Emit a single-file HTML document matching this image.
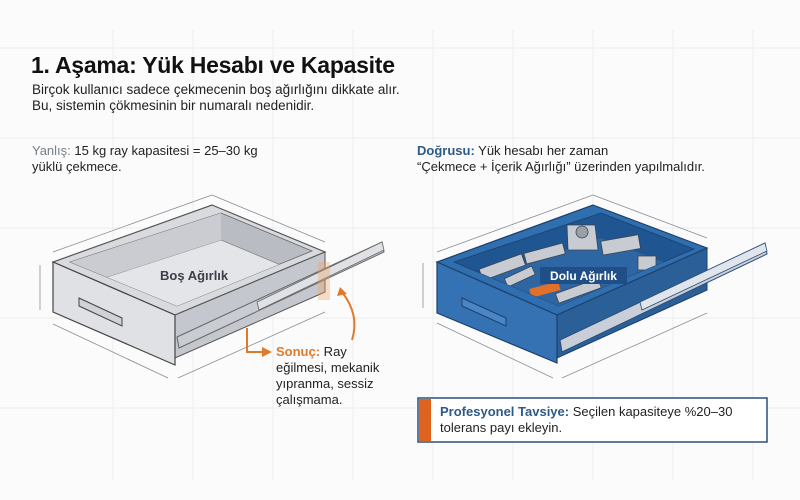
<!DOCTYPE html>
<html><head><meta charset="utf-8"><style>
body{margin:0;background:#fbfbfb;}
svg{display:block;font-family:"Liberation Sans",sans-serif;}
</style></head><body>
<svg width="800" height="500" viewBox="0 0 800 500" xmlns="http://www.w3.org/2000/svg">
<defs>
<clipPath id="cl"><polygon points="221,213 312,251 177,306 70,262"/></clipPath>
<clipPath id="cr"><polygon points="601,213 694,249 559,306 454,262"/></clipPath>
</defs>
<rect width="800" height="500" fill="#fbfbfb"/>
<g stroke="#ececef" stroke-width="1">
<line x1="0" y1="138" x2="800" y2="138"/><line x1="0" y1="48" x2="800" y2="48"/>
<line x1="0" y1="228" x2="800" y2="228"/><line x1="0" y1="318" x2="800" y2="318"/><line x1="0" y1="408" x2="800" y2="408"/>
<line x1="113" y1="30" x2="113" y2="480"/><line x1="193" y1="30" x2="193" y2="480"/><line x1="273" y1="30" x2="273" y2="480"/>
<line x1="353" y1="30" x2="353" y2="480"/><line x1="433" y1="30" x2="433" y2="480"/><line x1="513" y1="30" x2="513" y2="480"/>
<line x1="593" y1="30" x2="593" y2="480"/><line x1="673" y1="30" x2="673" y2="480"/><line x1="753" y1="30" x2="753" y2="480"/>
</g>
<text x="31" y="73" font-size="23" font-weight="bold" fill="#111" textLength="364">1. Aşama: Yük Hesabı ve Kapasite</text>
<text x="32" y="94" font-size="13.5" fill="#222">Birçok kullanıcı sadece çekmecenin boş ağırlığını dikkate alır.</text>
<text x="32" y="110" font-size="13.5" fill="#222">Bu, sistemin çökmesinin bir numaralı nedenidir.</text>
<text x="32" y="155" font-size="13" fill="#222"><tspan fill="#778088">Yanlış:</tspan> 15 kg ray kapasitesi = 25–30 kg</text>
<text x="32" y="171" font-size="13" fill="#222">yüklü çekmece.</text>
<text x="417" y="155" font-size="13" fill="#222"><tspan fill="#2d5a86" font-weight="bold">Doğrusu:</tspan> Yük hesabı her zaman</text>
<text x="417" y="171" font-size="13" fill="#222">“Çekmece + İçerik Ağırlığı” üzerinden yapılmalıdır.</text>

<!-- left drawer -->
<g stroke="#8a8e96" stroke-width="0.8" fill="none">
<line x1="53" y1="252" x2="212" y2="195"/><line x1="212" y1="195" x2="325" y2="242"/>
<line x1="53" y1="324" x2="168" y2="378"/><line x1="178" y1="378" x2="325" y2="312"/>
<line x1="40" y1="265" x2="40" y2="310"/>
</g>
<polygon points="212,205 325,252 175,315 53,262" fill="#d8dade" stroke="#555" stroke-width="1.2"/>
<polygon points="221,213 312,251 177,306 70,262" fill="#b9bcc3" stroke="#666" stroke-width="0.8"/>
<g clip-path="url(#cl)">
<polygon points="221,240 312,278 177,333 70,289" fill="#e4e5e8" stroke="#888" stroke-width="0.8"/>
<polygon points="221,213 221,240 70,289 70,262" fill="#caccd1"/>
</g>
<polygon points="175,315 325,252 325,292 175,358" fill="#c4c7cd" stroke="#555" stroke-width="1"/>
<polygon points="177,337 382,242 384,252 179,348" fill="#c9ccd2" stroke="#666" stroke-width="1"/>
<polygon points="257,302 382,242 384,250 259,310" fill="#dfe1e5" stroke="#666" stroke-width="0.8"/>
<polygon points="53,262 175,315 175,365 53,312" fill="#dfe1e4" stroke="#444" stroke-width="1.2"/>
<polygon points="79,298 122,318 122,326 79,306" fill="#cfd2d6" stroke="#444" stroke-width="1"/>
<rect x="318" y="262" width="12" height="38" fill="#f0a060" opacity="0.35"/>
<text x="160" y="280" font-size="13" font-weight="bold" fill="#3a3f48">Boş Ağırlık</text>
<path d="M247 328 V352 H262" stroke="#e07a2a" stroke-width="2" fill="none"/>
<polygon points="262,347 272,352 262,357" fill="#e07a2a"/>
<path d="M352 340 Q360 315 342 292" stroke="#e07a2a" stroke-width="2" fill="none"/>
<polygon points="337,296 340,287 347,294" fill="#e07a2a"/>
<text x="276" y="356" font-size="13" fill="#222"><tspan fill="#e07a2a" font-weight="bold">Sonuç:</tspan> Ray</text>
<text x="276" y="372" font-size="13" fill="#222">eğilmesi, mekanik</text>
<text x="276" y="388" font-size="13" fill="#222">yıpranma, sessiz</text>
<text x="276" y="404" font-size="13" fill="#222">çalışmama.</text>

<!-- right drawer -->
<g stroke="#8a8e96" stroke-width="0.8" fill="none">
<line x1="437" y1="252" x2="593" y2="195"/><line x1="593" y1="195" x2="707" y2="238"/>
<line x1="437" y1="323" x2="553" y2="378"/><line x1="562" y1="378" x2="707" y2="313"/>
<line x1="423" y1="263" x2="423" y2="308"/>
</g>
<polygon points="593,205 707,248 557,315 437,262" fill="#2f6fb0" stroke="#1e3f6a" stroke-width="1.2"/>
<polygon points="601,213 694,249 559,306 454,262" fill="#1f5590" stroke="#1e3f6a" stroke-width="0.8"/>
<g clip-path="url(#cr)">
<polygon points="601,238 694,274 559,331 454,287" fill="#2e66a4"/>
<g fill="#c8ccd2" stroke="#3a4450" stroke-width="0.8">
<polygon points="567,225 595,225 598,250 568,250"/>
<circle cx="582" cy="232" r="6" fill="#9aa0a8"/>
<rect x="480" y="262" width="45" height="12" transform="rotate(-20 500 268)"/>
<rect x="525" y="248" width="40" height="11" transform="rotate(-15 545 255)"/>
<rect x="602" y="238" width="38" height="14" transform="rotate(-10 620 247)"/>
<rect x="638" y="256" width="18" height="14"/>
<rect x="555" y="285" width="45" height="10" transform="rotate(-20 580 288)"/>
<rect x="505" y="272" width="30" height="9" transform="rotate(-25 520 277)"/>
</g>
<rect x="530" y="285" width="30" height="9" fill="#e0702a" transform="rotate(-15 545 290)"/>
</g>
<polygon points="557,315 707,248 707,290 557,358" fill="#2a5f98" stroke="#1e3f6a" stroke-width="1"/>
<polygon points="560,340 765,243 767,254 562,352" fill="#c9cfd8" stroke="#2c4f7a" stroke-width="1"/>
<polygon points="640,302 765,243 767,251 642,310" fill="#e0e5ec" stroke="#2c4f7a" stroke-width="0.8"/>
<polygon points="437,262 557,315 557,363 437,313" fill="#3472b4" stroke="#1e3f6a" stroke-width="1.2"/>
<polygon points="462,298 506,318 506,326 462,306" fill="#4a86c6" stroke="#1e3f6a" stroke-width="1"/>
<rect x="540" y="267" width="87" height="17" fill="#1f4f86"/>
<text x="583.5" y="280" font-size="12" font-weight="bold" fill="#fff" text-anchor="middle">Dolu Ağırlık</text>

<rect x="418" y="398" width="349" height="44" fill="#fff" stroke="#2c4f7a" stroke-width="1.5"/>
<rect x="419" y="399" width="12" height="42" fill="#e0621f"/>
<text x="440" y="416" font-size="13" fill="#222"><tspan fill="#2d5a86" font-weight="bold">Profesyonel Tavsiye:</tspan> Seçilen kapasiteye %20–30</text>
<text x="440" y="432" font-size="13" fill="#222">tolerans payı ekleyin.</text>
</svg>
</body></html>
